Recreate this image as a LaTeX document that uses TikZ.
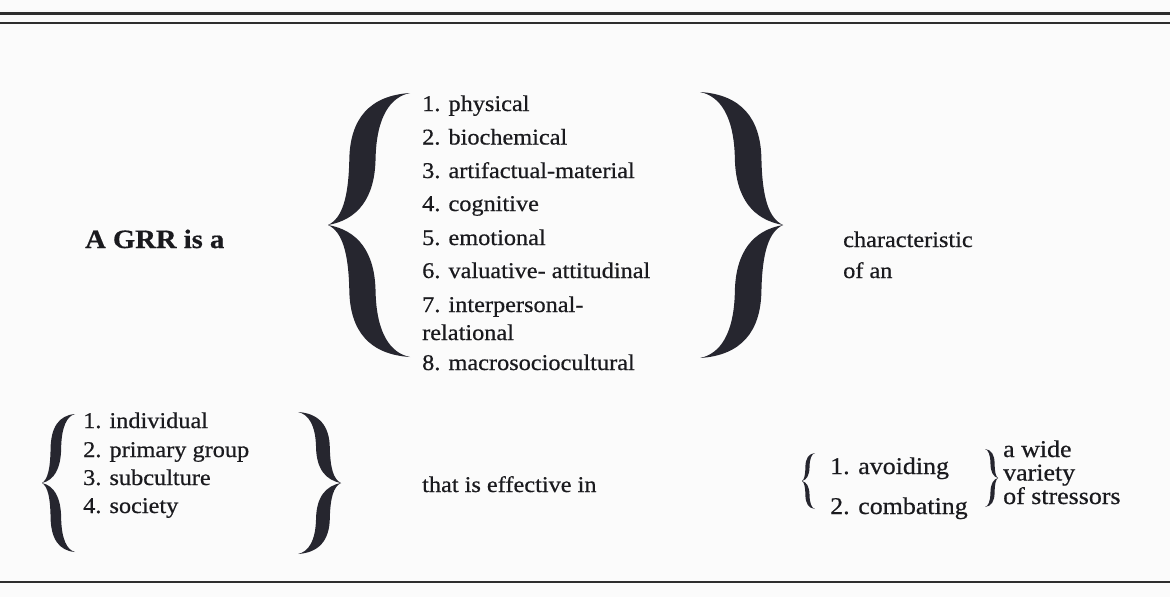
\documentclass[tikz,border=0pt]{standalone}
\usepackage{fontspec}
\setmainfont{Liberation Serif}[FakeStretch=1.08, FakeBold=0.6]
\definecolor{ink}{HTML}{1A1A1E}
\definecolor{bracecol}{HTML}{26262F}
\definecolor{paper}{HTML}{FBFBFB}
\definecolor{rulecol}{HTML}{2E2E2E}
\newcommand\mybracebody{%
  \fill[bracecol] (1,-1) .. controls (0.5,-0.98) and (0.27,-0.8) .. (0.26,-0.5)
    .. controls (0.25,-0.2) and (0.17,-0.05) .. (0,0)
    .. controls (0.36,-0.04) and (0.57,-0.2) .. (0.58,-0.5)
    .. controls (0.59,-0.82) and (0.76,-0.97) .. (1,-1) -- cycle;
  \fill[bracecol] (1,1) .. controls (0.5,0.98) and (0.27,0.8) .. (0.26,0.5)
    .. controls (0.25,0.2) and (0.17,0.05) .. (0,0)
    .. controls (0.36,0.04) and (0.57,0.2) .. (0.58,0.5)
    .. controls (0.59,0.82) and (0.76,0.97) .. (1,1) -- cycle;
}
\tikzset{
  txt/.style={anchor=base west, inner sep=0pt, text=ink, font=\fontsize{22.5}{26}\selectfont},
  btxt/.style={anchor=base west, inner sep=0pt, text=ink, font=\fontsize{26.5}{30}\selectfont\bfseries},
  ltxt/.style={anchor=base west, inner sep=0pt, text=ink, font=\fontsize{24}{28}\selectfont},
  rulestyle/.style={draw=rulecol, line width=2.5pt}
}
\begin{document}
\begin{tikzpicture}[x=1pt,y=-1pt]
\useasboundingbox (0,0) rectangle (1170,597);
\fill[paper] (0,0) rectangle (1170,597);
% rules
\draw[rulestyle, line width=3pt] (0,13) -- (1170,13);
\draw[rulestyle] (0,23) -- (1170,23);
\draw[rulestyle] (0,582) -- (1170,582);
% top part
\node[btxt] (grr) at (85,248) {A GRR is a};
\begin{scope}[shift={(328,225)},xscale=82,yscale=132]\mybracebody\end{scope}
\node[txt] (l1) at (422,111) {1. physical};
\node[txt] (l2) at (422,144.5) {2. biochemical};
\node[txt] (l3) at (422,178) {3. artifactual-material};
\node[txt] (l4) at (422,211) {4. cognitive};
\node[txt] (l5) at (422,245) {5. emotional};
\node[txt] (l6) at (422,278) {6. valuative- attitudinal};
\node[txt] (l7) at (422,312) {7. interpersonal-};
\node[txt] (l7b) at (422,340) {relational};
\node[txt] (l8) at (422,370) {8. macrosociocultural};
\begin{scope}[shift={(783,225)},xscale=-83,yscale=133]\mybracebody\end{scope}
\node[txt] (ch1) at (843,247) {characteristic};
\node[txt] (ch2) at (843,278) {of an};
% bottom part
\begin{scope}[shift={(42,483)},xscale=33,yscale=69]\mybracebody\end{scope}
\node[txt] (g1) at (83,428) {1. individual};
\node[txt] (g2) at (83,457) {2. primary group};
\node[txt] (g3) at (83,485) {3. subculture};
\node[txt] (g4) at (83,513) {4. society};
\begin{scope}[shift={(341,483)},xscale=-43,yscale=71]\mybracebody\end{scope}
\node[txt] (eff) at (422,492) {that is effective in};
\begin{scope}[shift={(802,481)},xscale=13,yscale=28]\mybracebody\end{scope}
\node[ltxt] (a1) at (830,474) {1. avoiding};
\node[ltxt] (a2) at (830,514) {2. combating};
\begin{scope}[shift={(998,478)},xscale=-13,yscale=29]\mybracebody\end{scope}
\node[ltxt] (w1) at (1003,457) {a wide};
\node[ltxt] (w2) at (1003,480.5) {variety};
\node[ltxt] (w3) at (1003,504) {of stressors};
\end{tikzpicture}
\end{document}
